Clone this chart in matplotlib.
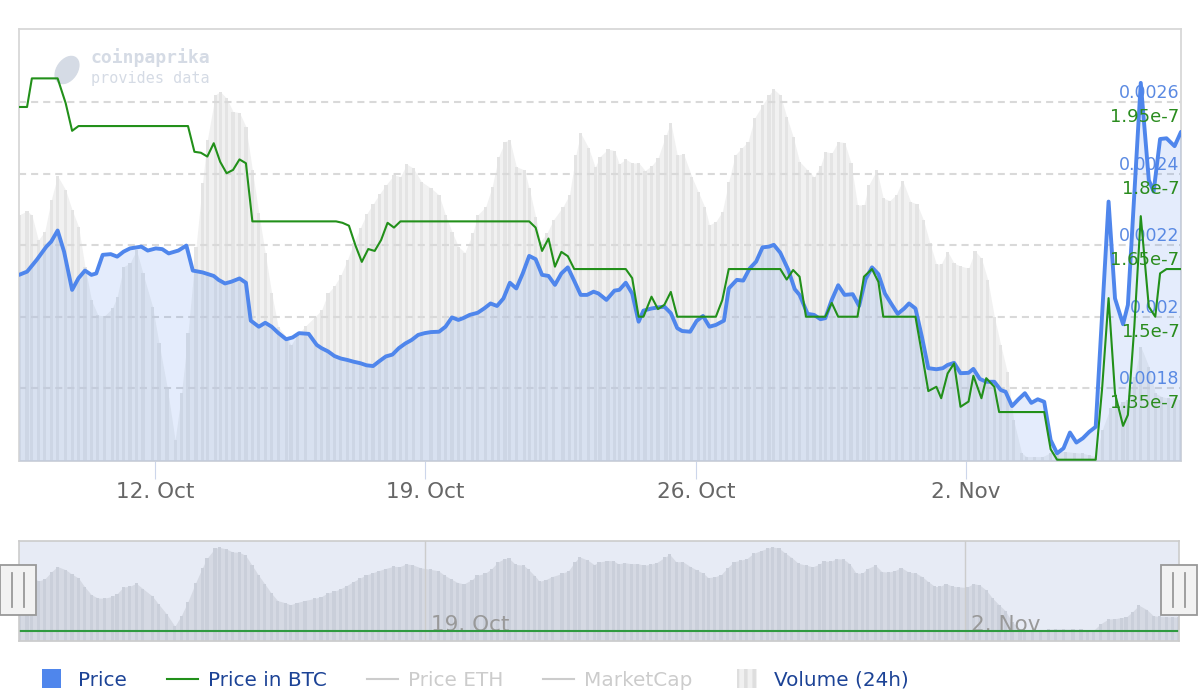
import numpy as np
import pandas as pd
import matplotlib
matplotlib.use('Agg')
import matplotlib.pyplot as plt
import matplotlib.dates as mdates
import matplotlib.transforms as mtransforms
from matplotlib.patches import Rectangle, Ellipse, Patch
from matplotlib.lines import Line2D
from matplotlib.legend_handler import HandlerPatch

# time axis: hours after first sample
start = pd.Timestamp('2020-10-08 11:30')

price_h = [0, 5, 11, 17, 20, 24, 28, 33, 37, 41, 45, 48, 52, 57, 61, 65, 69, 76, 80, 85,
           89, 93, 99, 104, 108, 114, 121, 124, 128, 132, 137, 141, 144, 149, 153, 157, 161, 166, 170, 174,
           180, 185, 188, 192, 196, 200, 204, 208, 212, 216, 220, 224, 228, 232, 236, 240, 244, 248, 252, 256,
           261, 265, 269, 273, 276, 280, 285, 289, 293, 297, 301, 305, 309, 313, 317, 321, 325, 329, 333, 337,
           341, 345, 349, 353, 357, 360, 365, 370, 373, 377, 381, 385, 388, 393, 397, 401, 405, 409, 412, 417,
           421, 425, 429, 433, 438, 441, 446, 450, 454, 458, 462, 466, 469, 473, 478, 482, 485, 490, 494, 498,
           501, 505, 509, 513, 518, 522, 526, 530, 534, 538, 542, 546, 550, 553, 557, 561, 565, 570, 574, 577,
           581, 585, 590, 593, 597, 601, 606, 610, 613, 617, 621, 625, 629, 633, 637, 641, 645, 649, 653, 657,
           661, 665, 669, 677, 681, 686, 689, 697, 702, 705, 709, 713, 718, 722]
price = [0.002117, 0.002126, 0.002159, 0.002196, 0.002210, 0.002241, 0.002182, 0.002075, 0.002108, 0.002129,
         0.002117, 0.002121, 0.002173, 0.002175, 0.002168, 0.002182, 0.002191, 0.002196, 0.002185, 0.002191,
         0.002189, 0.002177, 0.002185, 0.002199, 0.002129, 0.002124, 0.002114, 0.002103, 0.002093, 0.002098,
         0.002107, 0.002095, 0.001989, 0.001972, 0.001983, 0.001972, 0.001955, 0.001937, 0.001942, 0.001954,
         0.001952, 0.001921, 0.001912, 0.001903, 0.001890, 0.001883, 0.001879, 0.001874, 0.001870, 0.001864,
         0.001862, 0.001876, 0.001889, 0.001894, 0.001912, 0.001925, 0.001935, 0.001949, 0.001954, 0.001957,
         0.001958, 0.001972, 0.001998, 0.001991, 0.001996, 0.002005, 0.002011, 0.002023, 0.002037, 0.002030,
         0.002051, 0.002095, 0.002079, 0.002121, 0.002170, 0.002161, 0.002117, 0.002114, 0.002089, 0.002121,
         0.002138, 0.002100, 0.002061, 0.002061, 0.002070, 0.002065, 0.002047, 0.002073, 0.002075, 0.002095,
         0.002065, 0.001986, 0.002017, 0.002023, 0.002026, 0.002028, 0.002010, 0.001968, 0.001960, 0.001958,
         0.001988, 0.002002, 0.001972, 0.001977, 0.001989, 0.002079, 0.002103, 0.002101, 0.002135, 0.002154,
         0.002194, 0.002196, 0.002201, 0.002179, 0.002131, 0.002077, 0.002061, 0.002008, 0.002005, 0.001993,
         0.001996, 0.002047, 0.002088, 0.002061, 0.002063, 0.002030, 0.002105, 0.002138, 0.002119, 0.002065,
         0.002036, 0.002008, 0.002023, 0.002037, 0.002023, 0.001944, 0.001856, 0.001853, 0.001856, 0.001865,
         0.001871, 0.001842, 0.001843, 0.001854, 0.001826, 0.001818, 0.001818, 0.001795, 0.001790, 0.001750,
         0.001769, 0.001786, 0.001759, 0.001769, 0.001762, 0.001655, 0.001618, 0.001632, 0.001676, 0.001648,
         0.001660, 0.001678, 0.001692, 0.002322, 0.002051, 0.001979, 0.002033, 0.002654, 0.002382, 0.002350,
         0.002497, 0.002499, 0.002477, 0.002517]

btc_h = [0, 5, 8, 24, 29, 33, 37, 105, 109, 113, 117, 121, 125, 129, 133, 137, 141, 145,
         197, 201, 205, 209, 213, 217, 221, 225, 229, 233, 237, 317, 321, 325, 329, 333, 337, 341, 345,
         377, 381, 385, 388, 393, 397, 401, 405, 409, 433, 437, 441, 473, 477, 481, 485, 489,
         501, 505, 509, 521, 525, 530, 534, 537, 557, 561, 565, 570, 573, 577, 581, 585, 590, 593,
         598, 601, 606, 609, 637, 641, 645, 669, 673, 677, 681, 686, 689, 693, 697, 702, 706, 709, 713, 722]
btc = [1.94e-7, 1.94e-7, 2.0e-7, 2.0e-7, 1.948e-7, 1.89e-7, 1.9e-7, 1.9e-7, 1.846e-7, 1.844e-7,
       1.836e-7, 1.864e-7, 1.825e-7, 1.801e-7, 1.808e-7, 1.83e-7, 1.822e-7, 1.7e-7,
       1.7e-7, 1.697e-7, 1.691e-7, 1.65e-7, 1.615e-7, 1.642e-7, 1.638e-7, 1.661e-7, 1.697e-7, 1.687e-7, 1.7e-7,
       1.7e-7, 1.687e-7, 1.638e-7, 1.664e-7, 1.605e-7, 1.636e-7, 1.627e-7, 1.6e-7,
       1.6e-7, 1.581e-7, 1.5e-7, 1.5e-7, 1.542e-7, 1.516e-7, 1.525e-7, 1.552e-7, 1.5e-7,
       1.5e-7, 1.535e-7, 1.6e-7, 1.6e-7, 1.578e-7, 1.598e-7, 1.584e-7, 1.5e-7,
       1.5e-7, 1.529e-7, 1.5e-7, 1.5e-7, 1.584e-7, 1.6e-7, 1.573e-7, 1.5e-7,
       1.5e-7, 1.423e-7, 1.344e-7, 1.353e-7, 1.329e-7, 1.381e-7, 1.402e-7, 1.311e-7, 1.322e-7, 1.376e-7,
       1.329e-7, 1.371e-7, 1.353e-7, 1.3e-7, 1.3e-7, 1.222e-7, 1.2e-7,
       1.2e-7, 1.35e-7, 1.539e-7, 1.339e-7, 1.271e-7, 1.294e-7, 1.479e-7, 1.711e-7, 1.521e-7, 1.5e-7,
       1.591e-7, 1.6e-7, 1.6e-7]

# 24h volume, thousand USD
vol_h = [0, 5, 8, 12, 16, 20, 24, 29, 33, 37, 41, 45, 49, 53, 58, 61, 65, 69, 73, 77,
         83, 87, 92, 97, 101, 105, 110, 114, 117, 122, 125, 129, 133, 137, 141, 145, 149, 153, 157, 161,
         166, 169, 173, 178, 184, 188, 192, 196, 200, 204, 208, 212, 216, 220, 224, 228, 233, 237, 241, 245,
         250, 256, 261, 265, 269, 273, 277, 282, 285, 290, 294, 298, 302, 305, 309, 314, 317, 321, 324, 328,
         332, 338, 342, 346, 349, 354, 358, 361, 366, 370, 373, 377, 381, 385, 389, 393, 397, 402, 405, 409,
         413, 418, 422, 426, 429, 433, 437, 441, 445, 449, 453, 457, 462, 466, 469, 473, 477, 481, 485, 490,
         494, 498, 501, 505, 509, 513, 517, 521, 525, 528, 533, 537, 541, 545, 549, 554, 558, 562, 566, 570,
         573, 577, 581, 585, 590, 594, 598, 602, 606, 610, 614, 618, 623, 626, 631, 636, 641, 645, 650, 656,
         661, 665, 669, 673, 678, 682, 686, 689, 693, 697, 702, 706, 710, 714, 718, 722]
vol = [123, 125, 123, 110.5, 114.7, 130.5, 142.5, 135.5, 125.5, 117.2, 97.2, 80.5, 73, 72.5, 76.4, 82.2, 97.2, 98.9, 105.5, 93.9,
       77.2, 58.9, 37.2, 10.5, 33.9, 63.9, 107.2, 138.9, 160.5, 183, 184.7, 181.4, 174.7, 174.2, 167.2, 145.5, 123.9, 103.9, 83.9, 67.2,
       62.2, 58, 63, 67.5, 72.2, 75.5, 83.9, 87.5, 93, 100.5, 109, 116.5, 123.5, 128.5, 133.5, 138, 143, 142.2, 148.4, 146.4,
       139.7, 136.4, 133, 123, 114.7, 107.2, 104.2, 113.9, 123, 127.2, 137.2, 152.2, 159.7, 160.5, 147.2, 145.5, 136.4, 122.2, 109.7, 113.9,
       120.5, 127.2, 133, 153, 163.9, 156.4, 146.9, 152.2, 155.9, 155.2, 148.5, 150.9, 148.9, 149.2, 145.2, 147.5, 151.4, 163, 169.2, 153,
       153.5, 142.2, 134.7, 127.2, 118, 119.7, 124.7, 139.7, 153, 156.4, 159.7, 171.4, 178, 183, 185.9, 183, 172.2, 162.2, 149.7, 145.5,
       141.9, 147.5, 154.7, 153.9, 159.7, 159.2, 148.9, 128, 128, 138, 145.5, 131.4, 130.2, 133, 140.2, 129.7, 128.5, 120.5, 108.9, 98.5,
       98.5, 104.7, 98.9, 97.5, 96.4, 105, 101.4, 90.5, 72.2, 58, 44.7, 20.5, 3.9, 2.2, 2.2, 2.2, 4.2, 4.7, 4.7, 4.2,
       3.9, 3, 2.2, 15.5, 26.4, 27.2, 29.7, 30.5, 42.2, 57.2, 47.2, 33.9, 32.2, 31.4, 31.4, 30.5]

price_ticks = [0.0018, 0.002, 0.0022, 0.0024, 0.0026]
price_labels = ['0.0018', '0.002', '0.0022', '0.0024', '0.0026']
btc_ticks = [1.35e-7, 1.5e-7, 1.65e-7, 1.8e-7, 1.95e-7]
btc_labels = ['1.35e-7', '1.5e-7', '1.65e-7', '1.8e-7', '1.95e-7']
nav_dates = ['2020-10-19', '2020-11-02']
legend_names = ['Price', 'Price in BTC', 'Price ETH', 'MarketCap', 'Volume (24h)']


def to_num(hours):
    return mdates.date2num((start + pd.to_timedelta(hours, unit='h')).to_pydatetime())


tp, tb, tv = to_num(price_h), to_num(btc_h), to_num(vol_h)
x0, x1 = to_num([0, 722])

blue = '#4f86ec'
green = '#22901a'

fig = plt.figure(figsize=(12, 7), dpi=100)

# ---- main chart ----
ax = fig.add_axes([19/1200, 1-461/700, 1162/1200, 432/700])
ax.patch.set_visible(False)
ax.set_xlim(x0, x1)
ax.set_ylim(0, 216)
ax.fill_between(tv, vol, 0, color='#f1f1f1', lw=0, zorder=1)
ax.bar(tv, vol, width=2/24, color='#e4e4e4', lw=0, zorder=1.5)
ax.set_yticks([])
ax.xaxis.set_major_locator(mdates.WeekdayLocator(byweekday=mdates.MO))
ax.xaxis.set_major_formatter(mdates.DateFormatter('%-d. %b'))
ax.tick_params(axis='x', length=13, width=0.8, color='#ccd6eb', labelsize=15.5,
               labelcolor='#666666', pad=2)
for s in ax.spines.values():
    s.set_color('#d8d8d8')
    s.set_linewidth(1.3)

# watermark
ax.text(90/1200, 1-58/700, 'coinpaprika', transform=fig.transFigure, family='DejaVu Sans Mono',
        weight='bold', fontsize=13, color='#d5dbe5', va='center', zorder=0.5)
ax.text(91/1200, 1-78/700, 'provides data', transform=fig.transFigure, family='DejaVu Sans Mono',
        fontsize=10.9, color='#d5dbe5', va='center', zorder=0.5)
ax.add_patch(Ellipse((0.67, 7-0.70), 0.2, 0.3, angle=-35, transform=fig.dpi_scale_trans,
                     color='#d5dbe5', zorder=0.5))

ax_p = ax.twinx()
p_lo, p_hi = 0.0015964, 0.0028047
ax_p.set_ylim(p_lo, p_hi)
ax_p.fill_between(tp, price, p_lo, color=blue, alpha=0.15, lw=0)
ax_p.plot(tp, price, color=blue, lw=2.8, solid_joinstyle='round', solid_capstyle='round')
ax_p.set_yticks(price_ticks)
ax_p.set_yticklabels(price_labels)
ax_p.grid(axis='y', color='#d9d9d9', lw=1.5, ls=(0, (3.4, 2.4)))
ax_p.set_axisbelow(True)
ax_p.tick_params(axis='y', length=0, pad=-1, labelsize=12.5, labelcolor='#5b8ae2')

ax_b = ax.twinx()
ax_b.set_ylim(1.1973e-7, 2.1036e-7)
ax_b.plot(tb, btc, color=green, lw=1.5)
ax_b.set_yticks(btc_ticks)
ax_b.set_yticklabels(btc_labels)
ax_b.tick_params(axis='y', length=0, pad=-1, labelsize=13, labelcolor='#2a8c1e')

for a in (ax_p, ax_b):
    for s in a.spines.values():
        s.set_visible(False)

up = mtransforms.ScaledTranslation(0, 8/72, fig.dpi_scale_trans)
down = mtransforms.ScaledTranslation(0, -9.4/72, fig.dpi_scale_trans)
for lab in ax_p.get_yticklabels():
    lab.set_horizontalalignment('right')
    lab.set_transform(lab.get_transform() + up)
for lab in ax_b.get_yticklabels():
    lab.set_horizontalalignment('right')
    lab.set_transform(lab.get_transform() + down)

# ---- navigator ----
nav = fig.add_axes([19/1200, 1-641/700, 1160/1200, 100/700])
nav.set_facecolor('#e7ebf5')
nav.set_xlim(x0, x1)
n_lo = -22
nav.set_ylim(n_lo, 199)
nav.fill_between(tv, vol, n_lo, color='#d5d9e3', lw=0)
nav.bar(tv, np.array(vol) - n_lo, bottom=n_lo, width=2/24, color='#cacfda', lw=0)
nav.plot(tb, btc, color='#2f9a40', lw=1.5)
nav.set_yticks([])
nav.set_xticks(to_num((pd.to_datetime(nav_dates) - start) / pd.Timedelta(hours=1)))
nav.xaxis.set_major_formatter(mdates.DateFormatter('%-d. %b'))
nav.grid(axis='x', color='#cccccc', lw=1)
nav.tick_params(axis='x', length=0, pad=-18.5, labelsize=15.5, labelcolor='#999999')
right = mtransforms.ScaledTranslation(4.5/72, 0, fig.dpi_scale_trans)
for lab in nav.get_xticklabels():
    lab.set_horizontalalignment('left')
    lab.set_transform(lab.get_transform() + right)
for s in nav.spines.values():
    s.set_color('#cccccc')
    s.set_linewidth(1.2)

# navigator handles
for hx in (0, 1161):
    fig.add_artist(Rectangle((hx/1200, 1-615/700), 36/1200, 50/700, transform=fig.transFigure,
                             fc='#f2f2f2', ec='#999999', lw=1.3))
    for dx in (12, 24):
        fig.add_artist(Line2D([(hx+dx)/1200]*2, [1-607/700, 1-573/700], transform=fig.transFigure,
                              color='#999999', lw=1.3))

# ---- legend ----
plt.rcParams['hatch.linewidth'] = 2.5


def square(legend, orig_handle, xdescent, ydescent, width, height, fontsize):
    return Rectangle((-xdescent + 0.16*width, -ydescent - 0.2*height), 0.62*width, 1.4*height)


handles = [Patch(facecolor=blue, lw=0),
           Line2D([], [], color=green, lw=1.5),
           Line2D([], [], color='#cccccc', lw=1.5),
           Line2D([], [], color='#cccccc', lw=1.5),
           Patch(facecolor='#f0f0f0', edgecolor='#dedede', hatch='||', lw=0)]
leg = fig.legend(handles, legend_names, loc='center left', bbox_to_anchor=(37/1200, 1-680/700),
                 ncol=5, frameon=False, fontsize=14.4, handlelength=1.55, handletextpad=0.5,
                 columnspacing=2.0, borderpad=0, borderaxespad=0,
                 handler_map={Patch: HandlerPatch(patch_func=square)})
for txt, c in zip(leg.get_texts(), ['#1c4396', '#1c4396', '#cccccc', '#cccccc', '#1c4396']):
    txt.set_color(c)

fig.savefig('out.png', dpi=100)
